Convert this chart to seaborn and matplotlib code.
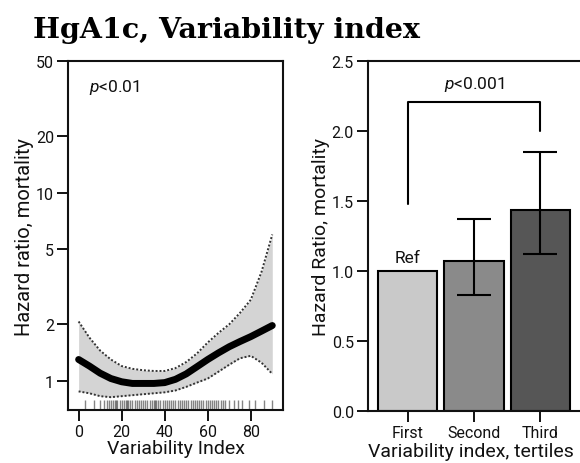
import numpy as np
import pandas as pd
import matplotlib
matplotlib.use("Agg")
import matplotlib.pyplot as plt
import seaborn as sns

# spline curve (left panel)
vi_x = [0, 5, 10, 15, 20, 25, 30, 35, 40, 45, 50, 55, 60, 65, 70, 75, 80, 85, 90]
hr = [1.30, 1.20, 1.10, 1.03, 0.99, 0.97, 0.97, 0.97, 0.98, 1.02, 1.09, 1.19,
      1.30, 1.41, 1.52, 1.62, 1.72, 1.84, 1.97]
hr_upper = [2.07, 1.70, 1.45, 1.30, 1.20, 1.16, 1.14, 1.13, 1.13, 1.17, 1.26,
            1.40, 1.60, 1.80, 2.00, 2.30, 2.70, 3.80, 6.00]
hr_lower = [0.88, 0.86, 0.83, 0.82, 0.83, 0.84, 0.85, 0.86, 0.87, 0.89, 0.93,
            0.98, 1.03, 1.12, 1.22, 1.32, 1.36, 1.25, 1.09]

# observed variability index values (rug)
rug_vals = [3, 7, 10, 12, 13, 14, 15, 16, 17, 17.5, 18, 19, 20, 21, 22, 22.5, 23,
            24, 25, 26, 27, 28, 29, 30, 31, 32, 33, 34, 35, 35.5, 36, 37, 38, 39,
            40, 41, 42, 43, 44, 45, 46, 47, 48, 49, 50, 51, 52, 53, 54, 55, 56,
            57, 58, 59, 60, 61, 62, 63, 64, 65, 66, 67, 68, 70, 72, 74, 76, 79,
            82, 86, 90]

# tertiles (right panel)
tertiles = ["First", "Second", "Third"]
tertile_hr = [1.00, 1.07, 1.44]
tertile_lo = [1.00, 0.83, 1.12]
tertile_hi = [1.00, 1.37, 1.85]
bar_colors = ["#c9c9c9", "#8a8a8a", "#565656"]

sns.set_style("white")
plt.rcParams["font.family"] = ["Roboto", "DejaVu Sans"]
plt.rcParams["mathtext.fontset"] = "custom"
plt.rcParams["mathtext.it"] = "Roboto:italic"
plt.rcParams["mathtext.rm"] = "Roboto"
plt.rcParams["text.color"] = "#111111"
plt.rcParams["axes.labelcolor"] = "#111111"
plt.rcParams["xtick.color"] = "#111111"
plt.rcParams["ytick.color"] = "#111111"

fig = plt.figure(figsize=(5.8, 4.64), dpi=100)
ax1 = fig.add_axes([0.117, 0.114, 0.371, 0.752])
ax2 = fig.add_axes([0.634, 0.112, 0.37, 0.754])

fig.text(0.057, 0.935, "HgA1c, Variability index", fontsize=20.5,
         fontweight="bold", family="DejaVu Serif", va="center", ha="left",
         color="black")

# left panel
curve = pd.DataFrame({"x": vi_x, "hr": hr, "lo": hr_lower, "hi": hr_upper})
ax1.fill_between(curve["x"], curve["lo"], curve["hi"], color="#d4d4d4", lw=0)
sns.lineplot(data=curve, x="x", y="hi", ax=ax1, color="#333333", lw=1.4, ls=(0, (1, 1)))
sns.lineplot(data=curve, x="x", y="lo", ax=ax1, color="#333333", lw=1.4, ls=(0, (1, 1)))
sns.lineplot(data=curve, x="x", y="hr", ax=ax1, color="black", lw=5)
sns.rugplot(x=rug_vals, ax=ax1, height=0.03, color="#333333", alpha=0.6, lw=1.6)
ax1.set_yscale("log")
ax1.set_ylim(0.7, 50)
ax1.set_xlim(-5, 95)
ax1.set_yticks([1, 2, 5, 10, 20, 50])
ax1.set_yticklabels(["1", "2", "5", "10", "20", "50"])
ax1.minorticks_off()
ax1.set_xticks([0, 20, 40, 60, 80])
ax1.set_xlabel("Variability Index", fontsize=14, labelpad=0)
ax1.set_ylabel("Hazard ratio, mortality", fontsize=14.5, labelpad=1)
ax1.text(0.1, 0.955, "$p$<0.01", transform=ax1.transAxes, fontsize=12.5, va="top")

# right panel
bars = pd.DataFrame({"tertile": tertiles, "hr": tertile_hr})
sns.barplot(data=bars, x="tertile", y="hr", hue="tertile", palette=bar_colors,
            ax=ax2, width=0.9, edgecolor="black", linewidth=1.5, legend=False)
err_x = [1, 2]
ax2.errorbar(err_x, tertile_hr[1:],
             yerr=[np.subtract(tertile_hr[1:], tertile_lo[1:]),
                   np.subtract(tertile_hi[1:], tertile_hr[1:])],
             fmt="none", ecolor="black", elinewidth=1.5, capsize=12, capthick=1.5)
ax2.text(0, tertile_hr[0] + 0.04, "Ref", ha="center", va="bottom", fontsize=12.5)
ax2.plot([0, 0, 2, 2], [1.48, 2.21, 2.21, 2.0], color="black", lw=1.5)
ax2.text(1, 2.27, "$p$<0.001", ha="center", va="bottom", fontsize=12.5)
ax2.set_ylim(0, 2.5)
ax2.set_xlim(-0.6, 2.63)
ax2.set_yticks([0, 0.5, 1.0, 1.5, 2.0, 2.5])
ax2.set_yticklabels(["0.0", "0.5", "1.0", "1.5", "2.0", "2.5"])
ax2.set_xlabel("Variability index, tertiles", fontsize=14)
ax2.xaxis.set_label_coords(0.48, -0.088)
ax2.set_ylabel("Hazard Ratio, mortality", fontsize=14, labelpad=1)

for ax in (ax1, ax2):
    for s in ax.spines.values():
        s.set_visible(True)
        s.set_linewidth(1.5)
        s.set_color("#111111")
    ax.tick_params(axis="both", which="major", direction="out", length=8,
                   width=1.4, labelsize=11.5, left=True, bottom=True, pad=2)

fig.savefig("out.png", dpi=100)
